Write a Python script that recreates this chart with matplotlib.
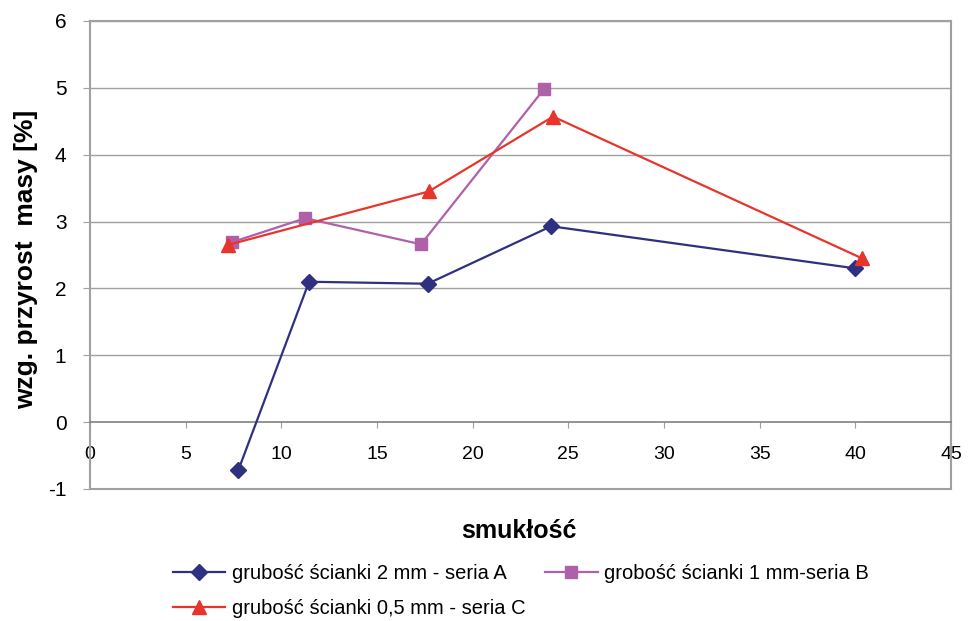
import matplotlib
matplotlib.use('Agg')
import matplotlib.pyplot as plt

plt.rcParams['font.family'] = ['Liberation Sans', 'DejaVu Sans']
plt.rcParams['axes.unicode_minus'] = False

# smukłość vs względny przyrost masy
x_a = [7.75, 11.45, 17.65, 24.1, 40.0]
y_a = [-0.72, 2.10, 2.07, 2.93, 2.30]

x_b = [7.4, 11.25, 17.3, 23.75]
y_b = [2.69, 3.05, 2.66, 4.99]

x_c = [7.2, 17.7, 24.2, 40.35]
y_c = [2.65, 3.45, 4.57, 2.45]

labels = ['grubość ścianki 2 mm - seria A',
          'grobość ścianki 1 mm-seria B',
          'grubość ścianki 0,5 mm - seria C']

navy = '#2f3080'
purple = '#b060a8'
red = '#e8352c'
grey = '#a0a0a0'

fig = plt.figure(figsize=(9.69, 6.21), dpi=100)
ax = fig.add_axes([90 / 969, 1 - 489 / 621, 861 / 969, 468 / 621])

for yv in range(1, 7):
    ax.axhline(yv, color=grey, lw=1, zorder=1)
ax.axhline(-1, color=grey, lw=1.5, zorder=1, clip_on=False)

la, = ax.plot(x_a, y_a, color=navy, lw=1.6, marker='D', ms=8, zorder=3)
lb, = ax.plot(x_b, y_b, color=purple, lw=1.6, marker='s', ms=8, zorder=3)
lc, = ax.plot(x_c, y_c, color=red, lw=1.6, marker='^', ms=10, zorder=3)

ax.set_xlim(0, 45)
ax.set_ylim(-1, 6)
ax.set_xticks(range(0, 46, 5))
ax.set_yticks(range(-1, 7))

for s in ['left', 'right', 'top']:
    ax.spines[s].set_color(grey)
    ax.spines[s].set_linewidth(1.5)
ax.spines['bottom'].set_position(('data', 0))
ax.spines['bottom'].set_color('#808080')
ax.spines['bottom'].set_linewidth(1.2)

ax.tick_params(axis='x', direction='out', length=4, color=grey,
               labelsize=14, pad=13)
ax.tick_params(axis='y', direction='out', length=5, color=grey,
               labelsize=15, pad=12)

# axis titles
fig.text(26 / 969, 1 - 259 / 621, 'wzg. przyrost  masy [%]', fontsize=19,
         fontweight='bold', rotation=90, ha='center', va='center')
fig.text(519 / 969, 1 - 531 / 621, 'smukłość', fontsize=18,
         fontweight='bold', ha='center', va='center')

fig.legend([la, lc, lb], [labels[0], labels[2], labels[1]], ncol=2,
           loc='upper left', bbox_to_anchor=(155 / 969, 1 - 546 / 621),
           frameon=False, fontsize=14.5, handlelength=2.6,
           columnspacing=1.0, handletextpad=0.3, labelspacing=0.8)

fig.savefig('out.png', dpi=100)
